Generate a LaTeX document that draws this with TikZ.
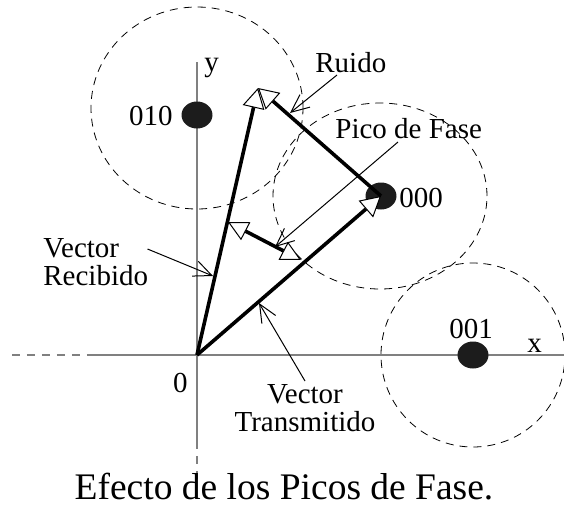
\documentclass[tikz,border=0pt]{standalone}
\usepackage{fontspec}
\setmainfont{Liberation Serif}
\usetikzlibrary{arrows.meta,shapes.geometric}
\definecolor{axisgray}{RGB}{128,128,128}
\definecolor{dotblack}{RGB}{28,28,28}
\tikzset{
  axis/.style={
    draw=axisgray,
    line width=1pt,
  },
  dashedaxis/.style={
    axis,
    dash pattern=on 4pt off 3.5pt
  },
  region/.style={
    draw,
    line width=0.4pt,
    dash pattern=on 4pt off 3pt
  },
  symdot/.style={
    ellipse,
    fill=dotblack,
    inner sep=0pt,
    minimum width=15.5pt,
    minimum height=13.5pt,
  },
  vectorline/.style={
    line width=1.8pt,
    -{Triangle[length=10pt, width=11pt, fill=white, line width=0.5pt]}
  },
  peakline/.style={
    line width=1.8pt,
    {Triangle[length=10pt, width=10pt, fill=white, line width=0.5pt]}-{Triangle[length=10pt, width=10pt, fill=white, line width=0.5pt]}
  },
  pointer/.style={
    line width=0.5pt,
    -{Straight Barb[length=9pt, width=8pt, line width=0.5pt]}
  },
  lbl/.style={
    inner sep=0pt,
    font=\fontsize{14.5pt}{14pt}\selectfont
  },
  caption/.style={
    inner sep=0pt,
    font=\fontsize{18.75pt}{22pt}\selectfont
  }
}

\begin{document}
\begin{tikzpicture}[x=0.5pt, y=-0.5pt]
\useasboundingbox (0,0) rectangle (564,505);

% axes
\draw[dashedaxis] (12,355) -- (89,355);
\draw[axis] (89,355) -- (564,355);
\draw[axis] (197,62) -- (197,441);
\draw[dashedaxis] (197,441) -- (197,484);
\coordinate (o) at (197,355);

% decision regions around the symbols
\draw[region] (197,108) ellipse [x radius=53pt, y radius=50.5pt];
\draw[region] (380,196) ellipse [x radius=53.5pt, y radius=46.5pt];
\draw[region] (473,355) ellipse [x radius=46pt, y radius=46pt];

\node[symdot] (s010) at (197,115) {};
\node[symdot] (s000) at (381,196) {};
\node[symdot] (s001) at (473,355) {};

% labels
\node[lbl, anchor=base west] (ly) at (204,71) {y};
\node[lbl, anchor=base west] (lx) at (527,352) {x};
\node[lbl, anchor=base east] (lo) at (188,392) {0};
\node[lbl, anchor=base east] (l010) at (173,125) {010};
\node[lbl, anchor=base west] (l000) at (399,207) {000};
\node[lbl, anchor=base west] (l001) at (449,338) {001};
\node[lbl, anchor=base west] (lruido) at (315,72) {Ruido};
\node[lbl, anchor=base west] (lpico) at (335,138) {Pico de Fase};
\node[lbl, anchor=north west, align=left] (lrec) at (43,238) {Vector\\Recibido};
\node[lbl, anchor=north, align=center] (ltrans) at (305,384) {Vector\\Transmitido};
\node[caption, anchor=base] (cap) at (284,499) {Efecto de los Picos de Fase.};

% vectors
\coordinate (rx) at (258,88);
\coordinate (pk1) at (228,222);
\coordinate (pk2) at (301,260);
\draw[vectorline] (o) -- (s000.center);
\draw[vectorline] (o) -- (rx);
\draw[vectorline] (s000.center) -- (rx);
\draw[peakline] (pk2) -- (pk1);

% pointers
\coordinate (truido) at (290,113);
\coordinate (tpico) at (275,247);
\coordinate (trec) at (213,276);
\coordinate (ttrans) at (259,303);
\draw[pointer] ([xshift=11pt, yshift=-1.5pt]lruido.base west) -- (truido);
\draw[pointer] ([xshift=31.5pt, yshift=-2pt]lpico.base west) -- (tpico);
\draw[pointer] ([xshift=-0.5pt, yshift=-5.5pt]lrec.north east) -- (trec);
\draw[pointer] ([yshift=1.5pt]ltrans.north) -- (ttrans);

\end{tikzpicture}
\end{document}
